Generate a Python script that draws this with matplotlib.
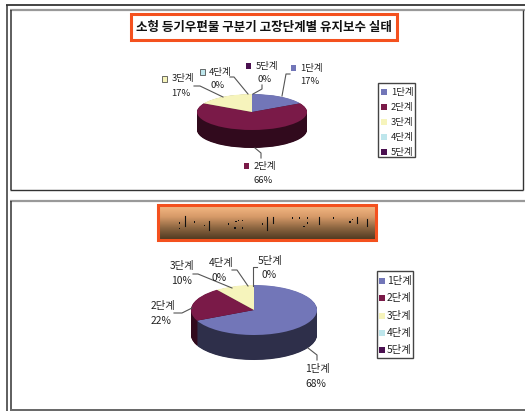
import numpy as np
import matplotlib
matplotlib.use("Agg")
import matplotlib.pyplot as plt
from matplotlib.colors import to_rgb, LinearSegmentedColormap
from matplotlib.patches import Rectangle

plt.rcParams['font.family'] = ['Noto Sans CJK KR', 'DejaVu Sans']

W, H = 525, 411
categories = ['1단계', '2단계', '3단계', '4단계', '5단계']
values_top = [17, 66, 17, 0, 0]
values_bottom = [68, 22, 10, 0, 0]
title_top = '소형 등기우편물 구분기 고장단계별 유지보수 실태'
colors = ['#7276B8', '#7A1A48', '#F6F4BC', '#BEE6EC', '#4A1050']

fig = plt.figure(figsize=(W / 100, H / 100), dpi=100, facecolor='white')
bg = fig.add_axes([0, 0, 1, 1], zorder=0)
bg.set_xlim(0, W)
bg.set_ylim(H, 0)
bg.axis('off')

# page frames
def ln(xs, ys, c='#333333', lw=1.0):
    bg.plot(xs, ys, color=c, lw=lw, solid_capstyle='butt', clip_on=False)

ln([6, 525], [5.5, 5.5], '#111111', 1.1)
ln([6.5, 6.5], [5, 411], '#333333', 1.1)
ln([10, 525], [9.8, 9.8], '#999999', 1.6)
ln([10.5, 10.5], [10, 190.5], '#333333', 1.1)
ln([10, 522.5], [190.5, 190.5], '#333333', 1.0)
ln([522.5, 522.5], [10, 190.5], '#333333', 1.0)
ln([10, 525], [200.8, 200.8], '#999999', 1.6)
ln([10.5, 10.5], [201, 409], '#333333', 1.1)
ln([10, 525], [409.5, 409.5], '#666666', 1.4)


def pie3d(vals, cx, cy, rx, ry, depth):
    ax = fig.add_axes([(cx - rx) / W, 1 - (cy + ry) / H, 2 * rx / W, 2 * ry / H], zorder=2)
    dark = [tuple(0.4 * v for v in to_rgb(c)) for c in colors]
    d_units = depth / ry
    for k in np.linspace(d_units, 0.02, int(depth) * 2):
        ax.pie(vals, colors=dark, startangle=90, counterclock=False, radius=1,
               center=(0, -k), wedgeprops={'linewidth': 0})
    ax.pie(vals, colors=colors, startangle=90, counterclock=False, radius=1,
           center=(0, 0), wedgeprops={'linewidth': 0})
    ax.set_aspect('auto')
    ax.set_xlim(-1, 1)
    ax.set_ylim(-1, 1)
    ax.patch.set_alpha(0)
    return ax


pie3d(values_top, 252, 112, 55, 18, 18)
pie3d(values_bottom, 254, 310, 63, 25, 25)

ov = fig.add_axes([0, 0, 1, 1], zorder=3)
ov.set_xlim(0, W)
ov.set_ylim(H, 0)
ov.axis('off')


def legend(x0, x1, y0, y1, ys, mx, tx, fs):
    ov.add_patch(Rectangle((x0, y0), x1 - x0, y1 - y0, fc='white', ec='#444444', lw=1.0))
    for cat, c, y in zip(categories, colors, ys):
        ov.add_patch(Rectangle((mx - 3, y - 3), 6, 6, fc=c, ec='none'))
        ov.text(tx, y, cat, fontsize=fs, ha='center', va='center', color='#222222')


legend(378, 415, 83, 157, [92, 107, 122, 137, 152], 384, 402, 6.8)
legend(377, 413, 271, 358, [281, 298, 316, 333, 350], 382, 399, 7.4)


def callout(cat_i, pct, tx, ty, px, py, path, fs, mx=None):
    ov.plot(*zip(*path), color='#555555', lw=0.8, zorder=1)
    ov.text(tx, ty, categories[cat_i], fontsize=fs, ha='center', va='center', color='#222222')
    ov.text(px, py, f'{pct}%', fontsize=fs, ha='center', va='center', color='#222222')
    if mx is not None:
        my = ty
        ov.add_patch(Rectangle((mx - 2.5, my - 3), 5, 6, fc=colors[cat_i],
                               ec='#333333' if cat_i in (2, 3) else 'none', lw=0.5))


callout(0, values_top[0], 311, 68, 310, 81, [(282, 96), (286, 74), (290, 74)], 6.8, 293)
callout(1, values_top[1], 265, 166, 263, 180, [(255, 148), (261, 153), (261, 158)], 6.8, 246)
callout(2, values_top[2], 183, 79, 181, 94, [(223, 97), (200, 86), (194, 86)], 6.8, 164)
callout(3, values_top[3], 220, 72, 218, 86, [(248, 94), (234, 77), (230, 77)], 6.8, 202)
callout(4, values_top[4], 267, 66, 265, 79, [(253, 94), (262, 89), (262, 85)], 6.8, 248)

callout(0, values_bottom[0], 317, 369, 316, 384, [(308, 348), (317, 355), (317, 360)], 7.4)
callout(1, values_bottom[1], 163, 306, 161, 321, [(192, 308), (182, 313), (174, 313)], 7.4)
callout(2, values_bottom[2], 182, 266, 181, 281, [(232, 288), (198, 274), (193, 274)], 7.4)
callout(3, values_bottom[3], 221, 263, 219, 278, [(248, 286), (237, 270), (232, 270)], 7.4)
callout(4, values_bottom[4], 270, 261, 269, 275, [(253, 286), (253, 267), (257, 267)], 7.4)

# top title
ov.add_patch(Rectangle((132, 15), 267, 27, fc='#444444', ec='none'))
ov.add_patch(Rectangle((131, 14), 266, 26.5, fc='white', ec='#F4511E', lw=2.2))
ov.text(264, 28, title_top, fontsize=9.0, fontweight='bold', ha='center', va='center', color='#111111')

# bottom title with gradient
ov.add_patch(Rectangle((159, 206), 219, 36, fc='#222222', ec='none'))
grad = LinearSegmentedColormap.from_list('g', ['#F6B985', '#D69A68', '#8A6440', '#4E3820'])
ov.imshow(np.linspace(0, 1, 64).reshape(-1, 1), cmap=grad, extent=(158, 376, 240, 205),
          aspect='auto', zorder=2)
ov.add_patch(Rectangle((158, 205), 218, 35, fc='none', ec='#F4511E', lw=2.2, zorder=3))
ov.set_xlim(0, W)
ov.set_ylim(H, 0)
speck_bars = [(105, 55, 85), (178, 70, 95), (350, 58, 95), (370, 58, 75), (508, 58, 78),
              (622, 58, 75), (652, 63, 83)]
speck_dots = [(88, 75), (88, 92), (133, 72), (163, 82), (235, 78), (258, 70), (277, 68), (265, 68),
              (255, 90), (277, 90), (338, 78), (427, 60), (448, 60), (472, 60), (472, 75),
              (462, 85), (550, 60), (600, 72), (607, 65)]
for x, y0, y1 in speck_bars:
    ov.plot([150 + x / 3] * 2, [198 + y0 / 3, 198 + y1 / 3], color='#111111', lw=0.8, zorder=4)
for x, y in speck_dots:
    ov.add_patch(Rectangle((150 + x / 3 - 0.6, 198 + y / 3 - 0.6), 1.2, 1.2, fc='#111111', ec='none', zorder=4))

fig.savefig('out.png', dpi=100)
